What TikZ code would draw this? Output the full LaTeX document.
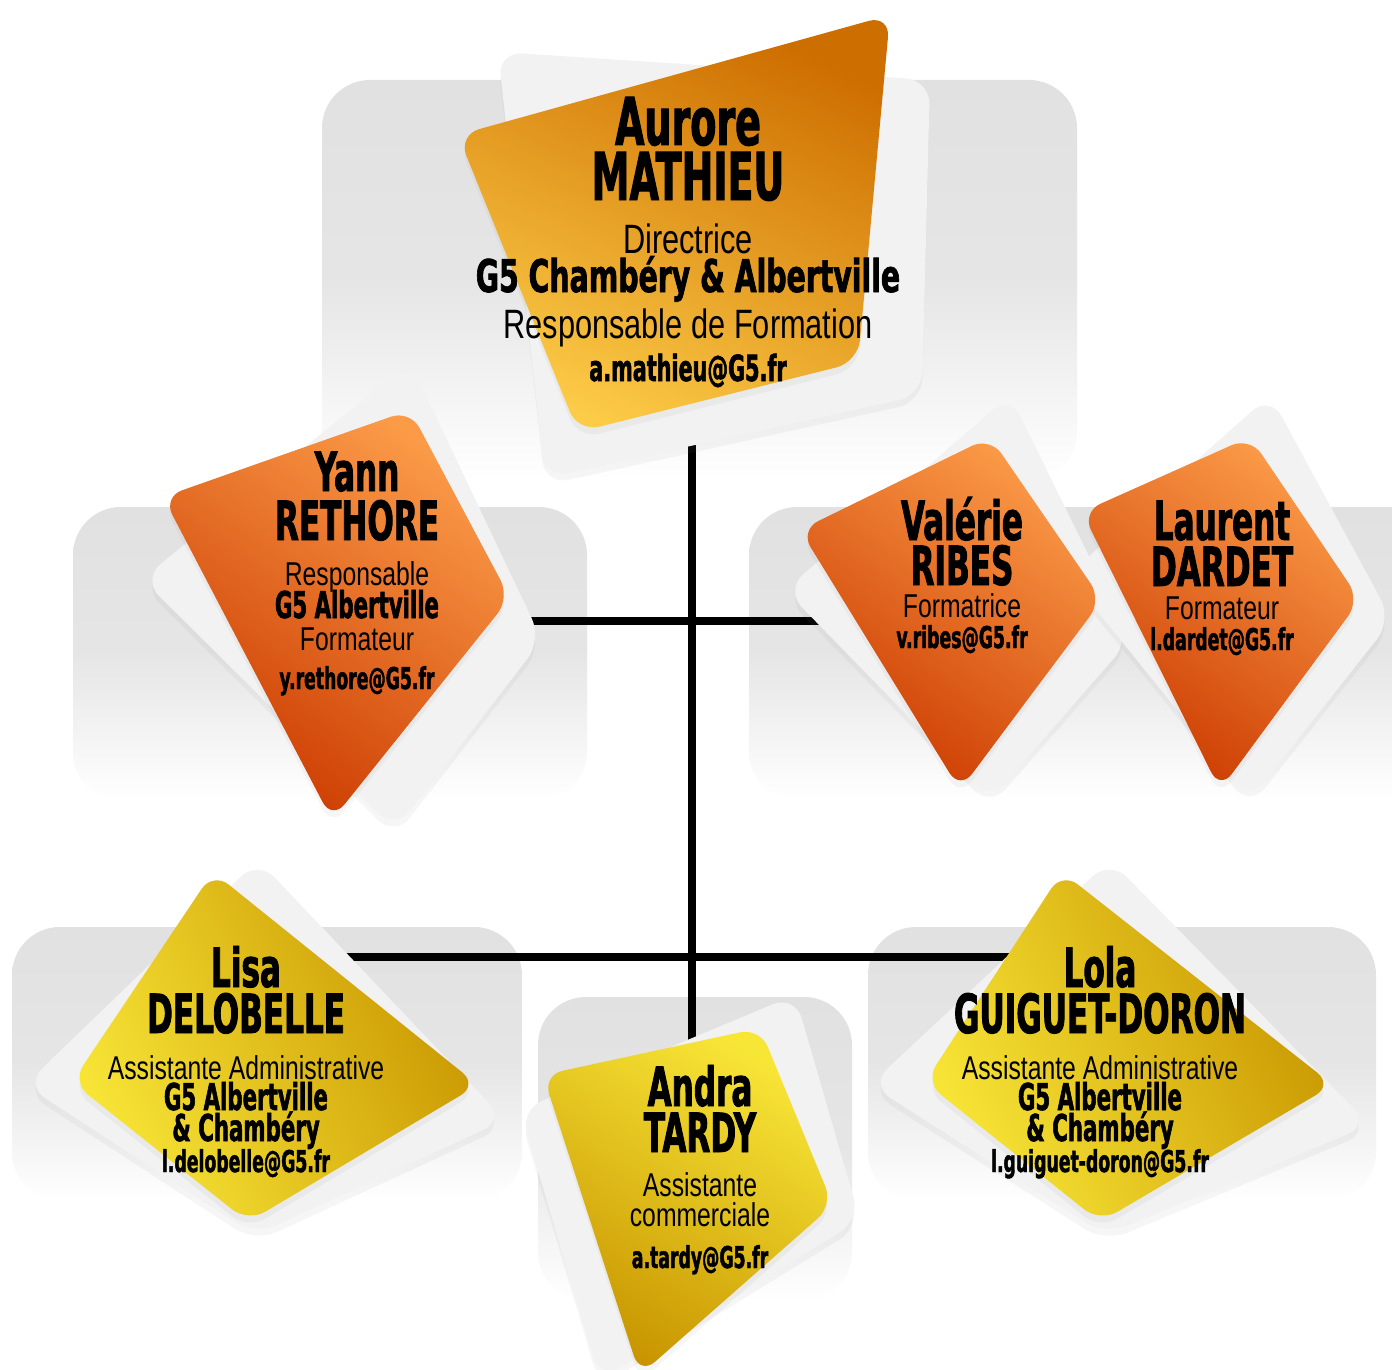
\documentclass[tikz,border=0pt]{standalone}
\usepackage{fontspec}
\newfontfamily\namefont[FakeStretch=0.64, FakeBold=1.5]{DejaVu Sans Condensed}
\newfontfamily\sitefont[FakeStretch=0.7, FakeBold=1.5]{DejaVu Sans Condensed}
\newfontfamily\rolefont[FakeStretch=0.75]{Liberation Sans}
\usetikzlibrary{shadows}

\definecolor{panelgrey}{HTML}{E1E1E1}
\definecolor{cardwhite}{HTML}{F2F2F2}
\definecolor{amberdark}{HTML}{CD6E00}
\definecolor{amberlight}{HTML}{FCCB47}
\definecolor{orangelight}{HTML}{FB9B48}
\definecolor{orangedark}{HTML}{CB3A00}
\definecolor{goldlight}{HTML}{F8E637}
\definecolor{golddark}{HTML}{C89500}

\begin{document}
\begin{tikzpicture}[x=1pt, y=-1pt,
    % Styles
    panel/.style={top color=panelgrey, bottom color=white, middle color=panelgrey!85, rounded corners=48pt},
    cardshadow/.style={drop shadow={shadow xshift=0pt, shadow yshift=-7pt, opacity=0.07}},
    backcard/.style={fill=cardwhite, rounded corners=24pt, cardshadow},
    ambercard/.style={top color=amberdark, bottom color=amberlight, shading angle=-25, rounded corners=22pt, cardshadow},
    orangecard/.style={top color=orangelight, bottom color=orangedark, shading angle=-35, rounded corners=20pt, cardshadow},
    goldcard/.style={top color=golddark, bottom color=goldlight, shading angle=-65, rounded corners=20pt, cardshadow},
    sunnycard/.style={top color=goldlight, bottom color=golddark, shading angle=-30, rounded corners=20pt, cardshadow},
    link/.style={line width=8pt, black},
    cardname/.style={font=\namefont\bfseries\fontsize{54}{54}\selectfont, anchor=base, inner sep=0pt},
    cardrole/.style={font=\rolefont\fontsize{33}{33}\selectfont, anchor=base, inner sep=0pt},
    cardsite/.style={font=\namefont\bfseries\fontsize{37}{37}\selectfont, anchor=base, inner sep=0pt},
    cardmail/.style={font=\namefont\bfseries\fontsize{30}{30}\selectfont, anchor=base, inner sep=0pt},
    bossname/.style={cardname, font=\namefont\bfseries\fontsize{66}{66}\selectfont},
    bossrole/.style={cardrole, font=\rolefont\fontsize{41}{41}\selectfont},
    bosssite/.style={cardsite, font=\sitefont\bfseries\fontsize{45}{45}\selectfont},
    bossmail/.style={cardmail, font=\namefont\bfseries\fontsize{36}{36}\selectfont},
]

\useasboundingbox (0,0) rectangle (1392,1370);
\clip (0,0) rectangle (1392,1370);
\fill[white] (0,0) rectangle (1392,1370);

% Grey panels
\shade[panel] (322,80) rectangle (1077,480);
\shade[panel] (73,507) rectangle (587,800);
\shade[panel] (749,507) rectangle (1440,800);
\shade[panel] (12,927) rectangle (522,1200);
\shade[panel] (538,997) rectangle (852,1300);
\shade[panel] (868,927) rectangle (1376,1200);

% Anchors of the connectors
\coordinate (mathieu) at (692,300);
\coordinate (tardy) at (692,1150);
\coordinate (rethore) at (357,621);
\coordinate (ribes) at (962,621);
\coordinate (delobelle) at (246,957);
\coordinate (guiguet) at (1100,957);

% Connectors
\draw[link] (mathieu) -- (tardy);
\draw[link] (rethore) -- (ribes);
\draw[link] (delobelle) -- (guiguet);

% Aurore MATHIEU
\fill[backcard] (498,52) -- (930,80) -- (922,395) -- (545,478) -- cycle;
\shade[ambercard] (458,135) -- (890,15) -- (858,362) -- (578,432) -- cycle;
\node[bossname] (mathieu-first) at (688,145) {Aurore};
\node[bossname] (mathieu-last) at (688,200) {MATHIEU};
\node[bossrole] (mathieu-role) at (688,253) {Directrice};
\node[bosssite] (mathieu-site) at (688,292) {G5 Chambéry \& Albertville};
\node[bossrole] (mathieu-job) at (688,338) {Responsable de Formation};
\node[bossmail] (mathieu-mail) at (688,381) {a.mathieu@G5.fr};

% Yann RETHORE
\fill[backcard] (142,579) -- (410,362) -- (542,640) -- (395,830) -- cycle;
\shade[orangecard] (163,497) -- (410,410) -- (510,598) -- (332,820) -- cycle;
\node[cardname] (rethore-first) at (357,491) {Yann};
\node[cardname] (rethore-last) at (357,540) {RETHORE};
\node[cardrole] (rethore-role) at (357,585) {Responsable};
\node[cardsite] (rethore-site) at (357,618) {G5 Albertville};
\node[cardrole] (rethore-job) at (357,650) {Formateur};
\node[cardmail] (rethore-mail) at (357,689) {y.rethore@G5.fr};

% Valerie RIBES and Laurent DARDET
\fill[backcard] (785,590) -- (1010,395) -- (1130,640) -- (990,800) -- cycle;
\fill[backcard] (1068,575) -- (1270,395) -- (1392,620) -- (1250,800) -- cycle;
\shade[orangecard] (800,530) -- (990,437) -- (1102,600) -- (960,790) -- cycle;
\shade[orangecard] (1082,512) -- (1250,437) -- (1360,600) -- (1220,790) -- cycle;
\node[cardname] (ribes-first) at (962,540) {Valérie};
\node[cardname] (ribes-last) at (962,585) {RIBES};
\node[cardrole] (ribes-role) at (962,617) {Formatrice};
\node[cardmail] (ribes-mail) at (962,648) {v.ribes@G5.fr};
\node[cardname] (dardet-first) at (1222,540) {Laurent};
\node[cardname] (dardet-last) at (1222,586) {DARDET};
\node[cardrole] (dardet-role) at (1222,619) {Formateur};
\node[cardmail] (dardet-mail) at (1222,650) {l.dardet@G5.fr};

% Lisa DELOBELLE
\fill[backcard] (25,1085) -- (258,860) -- (505,1120) -- (255,1235) -- cycle;
\shade[goldcard] (72,1082) -- (213,872) -- (478,1085) -- (248,1222) -- cycle;
\node[cardname] (delobelle-first) at (246,987) {Lisa};
\node[cardname] (delobelle-last) at (246,1033) {DELOBELLE};
\node[cardrole] (delobelle-role) at (246,1079) {Assistante Administrative};
\node[cardsite] (delobelle-site) at (246,1110) {G5 Albertville};
\node[cardsite] (delobelle-town) at (246,1141) {\& Chambéry};
\node[cardmail] (delobelle-mail) at (246,1172) {l.delobelle@G5.fr};

% Andra TARDY
\fill[backcard] (520,1110) -- (795,995) -- (860,1220) -- (600,1380) -- cycle;
\shade[sunnycard] (543,1075) -- (760,1028) -- (833,1205) -- (640,1375) -- cycle;
\node[cardname] (tardy-first) at (700,1106) {Andra};
\node[cardname] (tardy-last) at (700,1152) {TARDY};
\node[cardrole] (tardy-role) at (700,1196) {Assistante};
\node[cardrole] (tardy-job) at (700,1226) {commerciale};
\node[cardmail] (tardy-mail) at (700,1268) {a.tardy@G5.fr};

% Lola GUIGUET-DORON
\fill[backcard] (870,1085) -- (1110,860) -- (1370,1125) -- (1105,1235) -- cycle;
\shade[goldcard] (925,1082) -- (1062,872) -- (1333,1085) -- (1100,1222) -- cycle;
\node[cardname] (guiguet-first) at (1100,987) {Lola};
\node[cardname] (guiguet-last) at (1100,1033) {GUIGUET-DORON};
\node[cardrole] (guiguet-role) at (1100,1079) {Assistante Administrative};
\node[cardsite] (guiguet-site) at (1100,1110) {G5 Albertville};
\node[cardsite] (guiguet-town) at (1100,1141) {\& Chambéry};
\node[cardmail] (guiguet-mail) at (1100,1172) {l.guiguet-doron@G5.fr};

\end{tikzpicture}
\end{document}
